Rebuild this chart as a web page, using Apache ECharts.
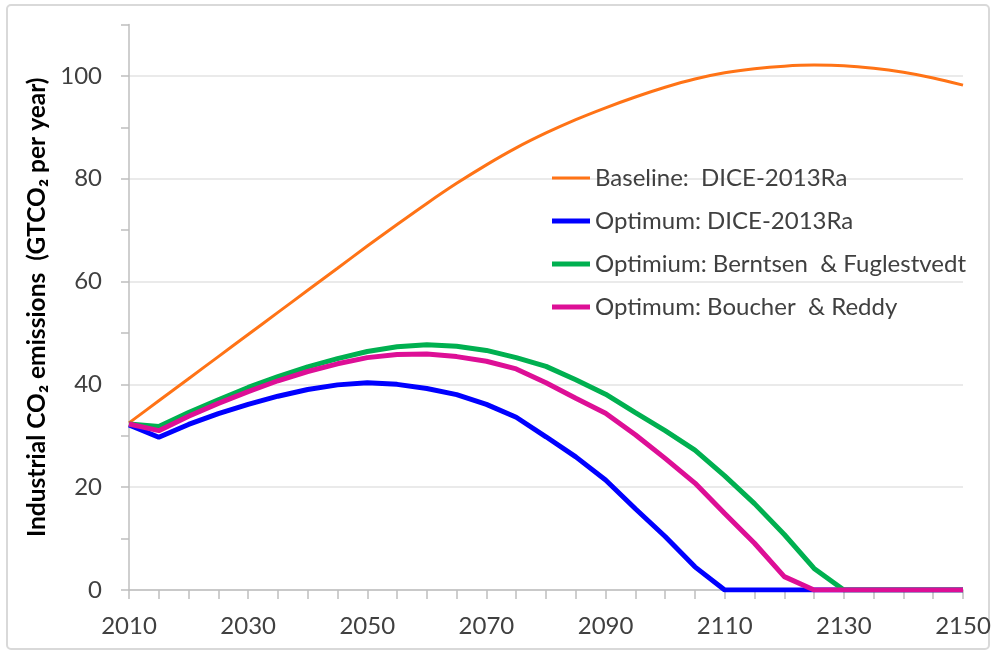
<!DOCTYPE html>
<html>
<head>
<meta charset="utf-8">
<script src="https://cdn.jsdelivr.net/npm/echarts@6/dist/echarts.min.js"></script>
<style>
  html, body { margin: 0; padding: 0; background: #fff; }
  #main { width: 994px; height: 653px; }
</style>
</head>
<body>
<div id="main"></div>
<script>
// years, 5-year steps
var years = [2010, 2015, 2020, 2025, 2030, 2035, 2040, 2045, 2050, 2055, 2060, 2065, 2070, 2075,
             2080, 2085, 2090, 2095, 2100, 2105, 2110, 2115, 2120, 2125, 2130, 2135, 2140, 2145, 2150];

var baseline = [32.5, 36.8, 41.1, 45.4, 49.7, 54.0, 58.3, 62.6, 66.9, 71.1, 75.2, 79.1, 82.7, 86.0,
                88.9, 91.5, 93.8, 95.9, 97.8, 99.4, 100.6, 101.4, 101.9, 102.1, 102.0, 101.5, 100.7, 99.6, 98.2];

var optDice = [32.1, 29.7, 32.2, 34.3, 36.1, 37.7, 39.0, 39.9, 40.3, 40.0, 39.2, 38.0, 36.1, 33.6,
               29.8, 25.9, 21.4, 15.8, 10.4, 4.5, 0, 0, 0, 0, 0, 0, 0, 0, 0];

var optBerntsen = [32.3, 31.8, 34.5, 37.0, 39.4, 41.5, 43.4, 45.0, 46.4, 47.3, 47.7, 47.4, 46.6, 45.2,
                   43.5, 40.9, 38.1, 34.5, 31.0, 27.2, 22.2, 16.8, 10.8, 4.2, 0, 0, 0, 0, 0];

var optBoucher = [32.3, 31.0, 33.8, 36.3, 38.6, 40.7, 42.5, 44.0, 45.2, 45.8, 45.9, 45.4, 44.5, 43.0,
                  40.3, 37.3, 34.4, 30.2, 25.6, 20.8, 14.9, 9.1, 2.6, 0, 0, 0, 0, 0, 0];

var names = ['Baseline:  DICE-2013Ra', 'Optimum: DICE-2013Ra',
             'Optimium: Berntsen  & Fuglestvedt', 'Optimum: Boucher  & Reddy'];
var colors = ['#FF7316', '#0000FF', '#00B050', '#DD0F96'];

function pairs(vals) {
    return years.map(function (y, i) { return [y, vals[i]]; });
}

var chart = echarts.init(document.getElementById('main'));
var fontFam = 'Lato, "Noto Sans", sans-serif';

// thin bar for baseline legend, thick bar for the others
var thinIcon = 'path://M0,0L0.05,0L0.05,0.05ZM0,1H38V4H0ZM37.95,5L38,5L38,4.95Z';

var option = {
    backgroundColor: '#fff',
    animation: false,
    graphic: [{
        type: 'rect',
        shape: { x: 7, y: 5, width: 982, height: 644, r: 4 },
        style: { fill: 'none', stroke: '#d9d9d9', lineWidth: 2 },
        z: -1
    }],
    grid: { left: 129, right: 31, top: 24.5, bottom: 63 },
    legend: {
        orient: 'vertical',
        left: 547,
        top: 160,
        itemWidth: 38,
        itemHeight: 5,
        itemGap: 17,
        textStyle: { fontFamily: fontFam, fontSize: 24, color: '#404040', lineHeight: 26 },
        data: [
            { name: names[0], icon: thinIcon },
            { name: names[1], icon: 'rect' },
            { name: names[2], icon: 'rect' },
            { name: names[3], icon: 'rect' }
        ]
    },
    xAxis: {
        type: 'value',
        min: 2010,
        max: 2150,
        interval: 5,
        axisLine: { lineStyle: { color: '#bfbfbf', width: 1.5 } },
        axisTick: { show: true, length: 9, lineStyle: { color: '#bfbfbf', width: 1.5 } },
        axisLabel: {
            margin: 24,
            fontFamily: fontFam,
            fontSize: 24,
            color: '#404040',
            formatter: function (v) { return (v - 2010) % 20 === 0 ? String(v) : ''; }
        },
        splitLine: { show: false }
    },
    yAxis: {
        type: 'value',
        min: 0,
        max: 110,
        interval: 10,
        name: 'Industrial CO\u2082 emissions  (GTCO\u2082 per year)',
        nameLocation: 'middle',
        nameGap: 76,
        nameTextStyle: { fontFamily: fontFam, fontSize: 24.5, fontWeight: 'bold', color: '#000' },
        axisLine: { show: true, lineStyle: { color: '#bfbfbf', width: 1.5 } },
        axisTick: { show: true, length: 8, lineStyle: { color: '#bfbfbf', width: 1.5 } },
        axisLabel: {
            margin: 27,
            fontFamily: fontFam,
            fontSize: 24,
            color: '#404040',
            formatter: function (v) { return (v % 20 === 0 && v <= 100) ? String(v) : ''; }
        },
        splitLine: { show: true, lineStyle: { color: ['#e3e3e3', 'rgba(0,0,0,0)'], width: 1.5 } }
    },
    series: [
        {
            name: names[0], type: 'line', data: pairs(baseline),
            symbol: 'none', smooth: 0.3,
            lineStyle: { color: colors[0], width: 3 }, itemStyle: { color: colors[0] }, z: 2
        },
        {
            name: names[1], type: 'line', data: pairs(optDice),
            symbol: 'none',
            lineStyle: { color: colors[1], width: 5 }, itemStyle: { color: colors[1] }, z: 3
        },
        {
            name: names[2], type: 'line', data: pairs(optBerntsen),
            symbol: 'none',
            lineStyle: { color: colors[2], width: 5 }, itemStyle: { color: colors[2] }, z: 4
        },
        {
            name: names[3], type: 'line', data: pairs(optBoucher),
            symbol: 'none',
            lineStyle: { color: colors[3], width: 5 }, itemStyle: { color: colors[3] }, z: 5
        }
    ]
};
chart.setOption(option);
</script>
</body>
</html>
